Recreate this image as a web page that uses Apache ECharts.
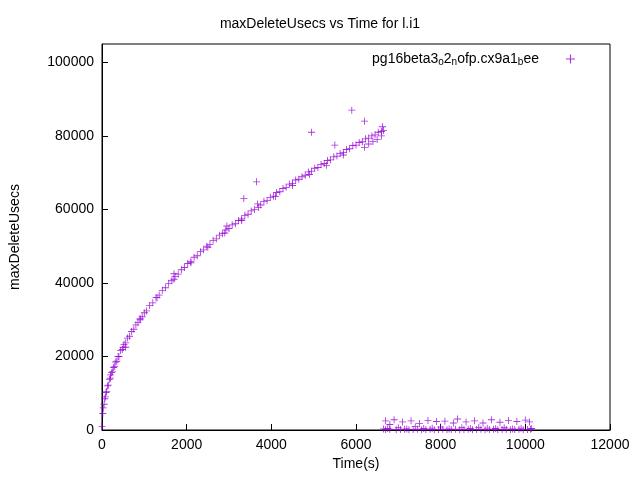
<!DOCTYPE html>
<html>
<head>
<meta charset="utf-8">
<script src="https://cdn.jsdelivr.net/npm/echarts@6/dist/echarts.min.js"></script>
<style>html,body{margin:0;padding:0;background:#fff}#chart{width:640px;height:480px}</style>
</head>
<body>
<div id="chart"></div>
<script>
// main rising curve (time in s, usecs)
var curveTime = [0,20,50,80,110,150,200,250,300,350,400,480,560,650,750,850,950,1050,1200,1350,1500,1650,1800,1950,2100,2250,2400,2550,2700,2850,3000,3150,3300,3450,3600,3750,3900,4050,4200,4350,4500,4650,4800,4950,5100,5250,5400,5550,5700,5850,6000,6150,6300,6450,6600,6650];
var curveUsecs = [1000,4500,7000,9000,10500,12200,14100,15800,17300,18700,20000,21900,23700,25500,27400,29200,30800,32400,34600,36700,38700,40600,42400,44200,45800,47400,49000,50500,52000,53400,54800,56100,57400,58700,60000,61200,62400,63600,64800,66000,67100,68200,69300,70400,71400,72500,73500,74500,75500,76500,77500,78400,79400,80300,81200,81500];
// extra points making the band look thick
var bandTime = [30,65,95,130,175,225,275,325,380,440,520,600,700,800,900,1000,1125,1275,1425,1575,1725,1875,2025,2175,2325,2475,2625,2775,2925,3075,3225,3375,3525,3675,3825,3975,4125,4275,4425,4575,4725,4875,5025,5175,5325,5475,5625,5775,5925,6075,6225,6375,6525,6625,6500,6600,6400,6300,6200,5700,5300,4900,4500,4100,3700,3300,2900,2500,2100,1700,1300,900,500];
var bandUsecs = [6000,8500,10200,12000,13800,15600,17000,18500,20000,21600,23300,25000,26800,28600,30300,31900,33900,36000,38000,39900,41800,43600,45300,47000,48500,50000,51600,53000,54400,55800,57000,58400,59600,61500,62200,63300,64600,65700,66900,68000,68900,70200,71200,72200,73300,74300,75200,76300,77400,78200,79200,80000,81000,82500,79000,80000,78500,77800,76900,74800,72000,69500,66500,63500,60500,57000,53600,49700,45500,41000,36000,30000,22500];
// outliers
var outTime = [200,560,3350,3650,4950,5500,5900,6200,1700,2950];
var outUsecs = [15000,22500,63000,67500,81000,77500,87000,84000,42500,55500];
// low segment after t=6650
var lowTime = [6650,6700,6750,6800,6900,7000,7100,7200,7300,7400,7500,7600,7700,7800,7900,8000,8100,8200,8300,8400,8500,8600,8700,8800,8900,9000,9100,9200,9300,9400,9500,9600,9700,9800,9900,10000,10100,10150,6700,6800,6950,7050,7150,7250,7350,7450,7550,7650,7750,7850,7950,8050,8150,8250,8350,8450,8550,8650,8750,8850,8950,9050,9150,9250,9350,9450,9550,9650,9750,9850,9950,10050,10120];
var lowUsecs = [300,2500,400,1500,2800,600,2200,300,2500,900,1800,400,2600,500,2300,800,2400,300,1900,3000,600,2200,400,2500,700,1900,500,2800,400,2100,600,2600,300,2300,500,2700,2200,400,150,200,100,150,200,100,150,200,100,150,200,100,150,200,100,150,200,100,150,200,100,150,200,100,150,200,100,150,200,100,150,200,100,150,200];

function pairs(xs, ys) { return xs.map(function (x, i) { return [x, ys[i]]; }); }
var pts = pairs(curveTime, curveUsecs).concat(pairs(bandTime, bandUsecs), pairs(outTime, outUsecs), pairs(lowTime, lowUsecs));

var plus = 'path://M4.4,0h1.2v4.4h4.4v1.2h-4.4v4.4h-1.2v-4.4h-4.4v-1.2h4.4z';
var chart = echarts.init(document.getElementById('chart'));
chart.setOption({
  animation: false,
  textStyle: {fontFamily: 'Liberation Sans, Arial, sans-serif', color: '#000'},
  title: {text: 'maxDeleteUsecs vs Time for l.i1', left: 'center', top: 12,
    textStyle: {fontSize: 14, fontWeight: 'normal', color: '#000'}},
  legend: {right: 60, top: 47, itemWidth: 9, itemHeight: 9, align: 'right', itemGap: 0,
    textStyle: {fontSize: 14, color: '#000', padding: [0, 22, 0, 0], rich: {s: {fontSize: 10, verticalAlign: 'bottom', padding: [6, 0, 0, 0]}}},
    formatter: function () { return 'pg16beta3{s|o}2{s|n}ofp.cx9a1{s|b}ee'; },
    data: [{name: 'pg', icon: plus}]},
  grid: {left: 100, right: 30, top: 44, bottom: 50, show: true, borderColor: '#000', borderWidth: 1},
  xAxis: {type: 'value', min: 0, max: 12000, interval: 2000, name: 'Time(s)', nameLocation: 'middle', nameGap: 27,
    nameTextStyle: {fontSize: 14, color: '#000'},
    axisLine: {lineStyle: {color: '#000'}}, axisTick: {inside: true, length: 6, lineStyle: {color: '#000'}},
    axisLabel: {fontSize: 14, color: '#000', formatter: function (v) { return String(v); }}, splitLine: {show: false}},
  yAxis: {type: 'value', min: 0, max: 105000, interval: 20000, name: 'maxDeleteUsecs', nameLocation: 'middle', nameGap: 80,
    nameTextStyle: {fontSize: 14, color: '#000'},
    axisLine: {show: true, lineStyle: {color: '#000'}}, axisTick: {show: true, inside: true, length: 6, lineStyle: {color: '#000'}},
    axisLabel: {fontSize: 14, color: '#000', showMaxLabel: false, formatter: function (v) { return String(v); }}, splitLine: {show: false}},
  series: [{name: 'pg', type: 'scatter', symbol: plus, symbolSize: 7, data: pts,
    itemStyle: {color: '#9400d3'}}]
});
</script>
</body>
</html>
